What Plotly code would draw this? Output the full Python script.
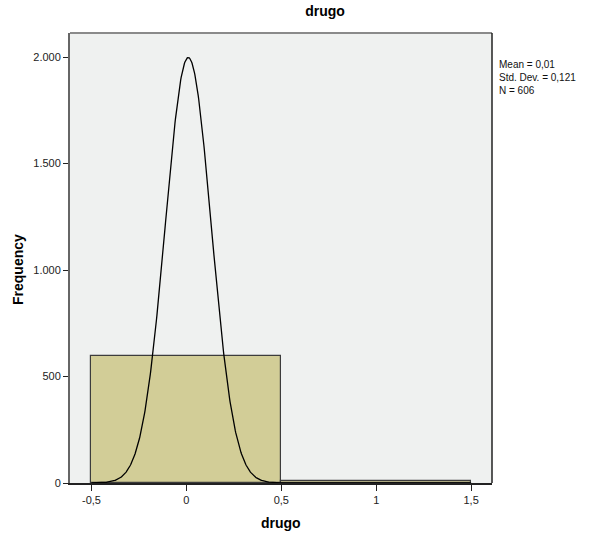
import numpy as np
import plotly.graph_objects as go

# Data
bin_centers = [0.0, 1.0]
bin_counts = [597, 9]
bin_width = 1.0
mean_val = 0.01
std_val = 0.121
n_val = 606
x_tick_vals = [-0.5, 0, 0.5, 1, 1.5]
x_tick_text = ["-0,5", "0", "0,5", "1", "1,5"]
y_tick_vals = [0, 500, 1000, 1500, 2000]
y_tick_text = ["0", "500", "1.000", "1.500", "2.000"]

FONT = "Liberation Sans, Arial, sans-serif"

fig = go.Figure()
fig.add_trace(go.Bar(
    x=bin_centers, y=bin_counts, width=[bin_width] * len(bin_centers),
    marker=dict(color="#D2CD97", line=dict(color="#3c3c3c", width=1.2)),
    showlegend=False, hoverinfo="x+y",
))

# Normal curve from summary statistics
xs = np.linspace(-0.5, 1.5, 801)
ys = n_val * bin_width / (std_val * np.sqrt(2 * np.pi)) * np.exp(-0.5 * ((xs - mean_val) / std_val) ** 2)
fig.add_trace(go.Scatter(x=xs, y=ys, mode="lines",
                         line=dict(color="#000000", width=1.3),
                         showlegend=False, hoverinfo="skip"))

stats_text = ("Mean = " + f"{mean_val:.2f}".replace(".", ",") + "<br>"
              + "Std. Dev. = " + f"{std_val:.3f}".replace(".", ",") + "<br>"
              + f"N = {n_val}")

title_font = dict(family=FONT, size=14, color="#000")

fig.update_layout(
    width=590, height=537,
    margin=dict(l=70, r=98, t=33, b=54),
    paper_bgcolor="white", plot_bgcolor="#EFF1F0",
    font=dict(family=FONT, size=11, color="#222"),
    bargap=0,
    title=dict(text="<b>drugo</b>", x=325 / 590, xanchor="center",
               y=1 - 11 / 537, yanchor="middle", font=title_font),
    xaxis=dict(range=[-0.613, 1.61], tickvals=x_tick_vals, ticktext=x_tick_text,
               showgrid=False, zeroline=False, ticks="outside", ticklen=6,
               tickcolor="#222", showline=True, linecolor="#222", linewidth=2,
               automargin=False, tickfont=dict(size=11, color="#222")),
    yaxis=dict(range=[0, 2113], tickvals=y_tick_vals, ticktext=y_tick_text,
               showgrid=False, zeroline=False, ticks="outside", ticklen=5,
               tickcolor="#222", showline=True, linecolor="#666", linewidth=2,
               automargin=False, tickfont=dict(size=11, color="#222")),
    shapes=[
        dict(type="line", xref="paper", yref="paper", x0=0, x1=1, y0=1, y1=1,
             line=dict(color="#8a8a8a", width=2)),
        dict(type="line", xref="paper", yref="paper", x0=1, x1=1, y0=0, y1=1,
             line=dict(color="#222", width=1.5)),
    ],
    annotations=[
        dict(xref="paper", yref="paper", x=1.012, y=1 - 24 / 450, xanchor="left", yanchor="top",
             align="left", showarrow=False, text=stats_text,
             font=dict(family=FONT, size=10, color="#111")),
        dict(xref="paper", yref="paper", x=0.5, y=(483 - 523) / 450, xanchor="center",
             yanchor="middle", showarrow=False, text="<b>drugo</b>", font=title_font),
        dict(xref="paper", yref="paper", x=(18 - 70) / 422, y=(483 - 270) / 450,
             xanchor="center", yanchor="middle", textangle=-90, showarrow=False,
             text="<b>Frequency</b>", font=title_font),
    ],
)

fig.write_html("out.html", config={"displayModeBar": False},
               post_script="document.body.style.margin='0';")
